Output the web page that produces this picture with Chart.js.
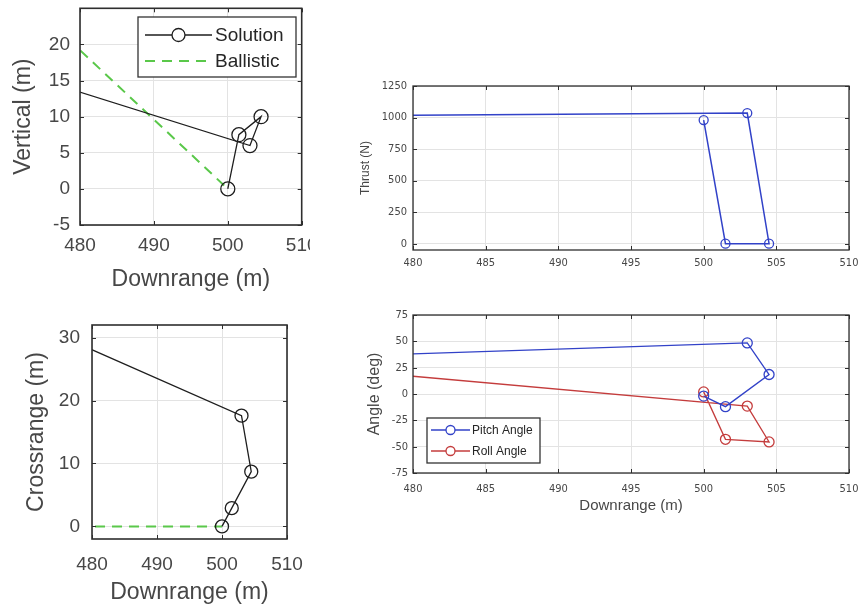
<!DOCTYPE html>
<html>
<head>
<meta charset="utf-8">
<title>Landing trajectory</title>
<script src="https://cdn.jsdelivr.net/npm/chart.js@4.4.1/dist/chart.umd.min.js"></script>
<style>
  html, body { margin: 0; padding: 0; background: #fff; }
  body { width: 859px; height: 608px; position: relative; overflow: hidden; }
  canvas { position: absolute; }
</style>
</head>
<body>
<canvas id="verticalChart" width="310" height="300" style="left:0;top:0"></canvas>
<canvas id="crossChart" width="310" height="308" style="left:0;top:300px"></canvas>
<canvas id="thrustChart" width="529" height="220" style="left:330px;top:60px"></canvas>
<canvas id="angleChart" width="529" height="230" style="left:330px;top:300px"></canvas>
<script>
// Solution samples, in time order (first one sits left of the 480 m window)
let downrange = [470, 503, 504.5, 501.5, 500];
let vertical = [16.6, 6.0, 10.0, 7.5, 0];
let crossrange = [32.6, 17.6, 8.7, 2.9, 0];
let thrust = [1011, 1035, 0, 0, 980];
let pitchAngle = [33.7, 48.5, 18.5, -12, -2];
let rollAngle = [29.2, -11.5, -45.5, -43, 2];

// Ballistic reference
let ballisticDownrange = [470, 500];
let ballisticVertical = [28.8, 0];
let ballisticCrossrange = [0, 0];

// Tick labels
let downrangeTicks = [480, 490, 500, 510];
let downrangeTicksFine = [480, 485, 490, 495, 500, 505, 510];
let verticalTicks = [-5, 0, 5, 10, 15, 20];
let crossrangeTicks = [0, 10, 20, 30];
let thrustTicks = [0, 250, 500, 750, 1000, 1250];
let angleTicks = [-75, -50, -25, 0, 25, 50, 75];

const FONT = '"Liberation Sans", Arial, sans-serif';
const NARROW = '"Liberation Sans Narrow", "DejaVu Sans Condensed", "Liberation Sans", sans-serif';
const GRID = '#e3e3e3';
const TEXT = '#474747';

function points(xs, ys) {
    return xs.map((x, i) => ({ x: x, y: ys[i] }));
}

// Axis box with inward tick marks, MATLAB style
function framePlugin(lineWidth, tickLen) {
    return {
        id: 'frame',
        afterDraw(chart) {
            let ctx = chart.ctx;
            let a = chart.chartArea;
            ctx.save();
            ctx.strokeStyle = '#2e2e2e';
            ctx.lineWidth = 1;
            let xs = chart.scales.x, ys = chart.scales.y;
            ctx.beginPath();
            xs.ticks.forEach(t => {
                let px = Math.round(xs.getPixelForValue(t.value)) + 0.5;
                ctx.moveTo(px, a.bottom); ctx.lineTo(px, a.bottom - tickLen);
                ctx.moveTo(px, a.top); ctx.lineTo(px, a.top + tickLen);
            });
            ys.ticks.forEach(t => {
                let py = Math.round(ys.getPixelForValue(t.value)) + 0.5;
                ctx.moveTo(a.left, py); ctx.lineTo(a.left + tickLen, py);
                ctx.moveTo(a.right, py); ctx.lineTo(a.right - tickLen, py);
            });
            ctx.stroke();
            ctx.lineWidth = lineWidth;
            ctx.strokeRect(a.left, a.top, a.right - a.left, a.bottom - a.top);
            ctx.restore();
        }
    };
}

// Legend drawn inside the axes, entries taken from the datasets
function legendPlugin(cfg) {
    return {
        id: 'insetLegend',
        afterDraw(chart) {
            let ctx = chart.ctx;
            ctx.save();
            ctx.fillStyle = '#fff';
            ctx.fillRect(cfg.x, cfg.y, cfg.w, cfg.h);
            ctx.strokeStyle = '#333';
            ctx.lineWidth = 1.3;
            ctx.strokeRect(cfg.x, cfg.y, cfg.w, cfg.h);
            ctx.font = cfg.font;
            ctx.textBaseline = 'middle';
            chart.data.datasets.forEach((ds, i) => {
                let y = cfg.rows[i];
                ctx.strokeStyle = ds.borderColor;
                ctx.lineWidth = ds.borderWidth;
                ctx.setLineDash(ds.borderDash || []);
                ctx.beginPath();
                ctx.moveTo(cfg.lineFrom, y);
                ctx.lineTo(cfg.lineTo, y);
                ctx.stroke();
                ctx.setLineDash([]);
                if (ds.pointRadius > 0) {
                    ctx.lineWidth = ds.pointBorderWidth;
                    ctx.beginPath();
                    ctx.arc((cfg.lineFrom + cfg.lineTo) / 2, y, cfg.markerR, 0, Math.PI * 2);
                    ctx.fillStyle = '#fff';
                    ctx.fill();
                    ctx.stroke();
                }
                ctx.fillStyle = '#262626';
                ctx.fillText(ds.label, cfg.textX, y + 1);
            });
            ctx.restore();
        }
    };
}

function xAxis(o) {
    return {
        type: 'linear',
        min: o.min, max: o.max,
        afterBuildTicks: s => { s.ticks = o.ticks.map(v => ({ value: v })); },
        afterFit: s => { s.height = o.size; s.paddingLeft = 0; s.paddingRight = 0; },
        grid: { color: GRID, drawTicks: false },
        border: { display: false },
        ticks: {
            autoSkip: false, maxRotation: 0, padding: o.pad, color: TEXT,
            font: { family: o.family || FONT, size: o.fontSize },
            callback: v => String(v)
        },
        title: o.title ? {
            display: true, text: o.title, color: TEXT,
            font: { family: FONT, size: o.titleSize },
            padding: { top: 0, bottom: o.titlePad }
        } : { display: false }
    };
}

function yAxis(o) {
    return {
        type: 'linear',
        min: o.min, max: o.max,
        afterBuildTicks: s => { s.ticks = o.ticks.map(v => ({ value: v })); },
        afterFit: s => { s.width = o.size; s.paddingTop = 0; s.paddingBottom = 0; },
        grid: { color: GRID, drawTicks: false },
        border: { display: false },
        ticks: {
            autoSkip: false, padding: o.pad, color: TEXT,
            font: { family: o.family || FONT, size: o.fontSize },
            callback: v => String(v)
        },
        title: {
            display: true, text: o.title, color: TEXT,
            font: { family: FONT, size: o.titleSize },
            padding: { top: o.titlePad, bottom: 0 }
        }
    };
}

function lineSet(label, xs, ys, color, width, radius) {
    return {
        label: label,
        data: points(xs, ys),
        borderColor: color,
        borderWidth: width,
        pointRadius: radius,
        pointBorderWidth: 1.3,
        pointBorderColor: color,
        pointBackgroundColor: 'rgba(0,0,0,0)',
        tension: 0
    };
}

function baseOptions(padding, scales) {
    return {
        responsive: false,
        animation: false,
        events: [],
        layout: { padding: padding },
        plugins: { legend: { display: false }, tooltip: { enabled: false } },
        scales: scales
    };
}

// Vertical vs downrange
let ballistic = lineSet('Ballistic', ballisticDownrange, ballisticVertical, '#5ac84a', 2, 0);
ballistic.borderDash = [10, 7];
new Chart(document.getElementById('verticalChart'), {
    type: 'line',
    data: { datasets: [
        lineSet('Solution', downrange, vertical, '#1e1e1e', 1.3, 7),
        ballistic
    ] },
    options: baseOptions({ left: 0, top: 8, right: 8, bottom: 0 }, {
        x: xAxis({ min: 480, max: 510, ticks: downrangeTicks, size: 75, pad: 9, fontSize: 19,
                   title: 'Downrange (m)', titleSize: 23, titlePad: 7 }),
        y: yAxis({ min: -5, max: 25, ticks: verticalTicks, size: 80, pad: 10, fontSize: 19,
                   title: 'Vertical (m)', titleSize: 23, titlePad: 10 })
    }),
    plugins: [framePlugin(1.6, 4), legendPlugin({
        x: 138, y: 17, w: 158, h: 60, rows: [35, 61], lineFrom: 145, lineTo: 212,
        textX: 215, markerR: 6.5, font: '19px ' + FONT
    })]
});

// Crossrange vs downrange
let ballisticCross = lineSet('Ballistic', ballisticDownrange, ballisticCrossrange, '#5ac84a', 2, 0);
ballisticCross.borderDash = [10, 7];
new Chart(document.getElementById('crossChart'), {
    type: 'line',
    data: { datasets: [
        lineSet('Solution', downrange, crossrange, '#1e1e1e', 1.3, 6.5),
        ballisticCross
    ] },
    options: baseOptions({ left: 0, top: 25, right: 23, bottom: 0 }, {
        x: xAxis({ min: 480, max: 510, ticks: downrangeTicks, size: 69, pad: 14, fontSize: 19,
                   title: 'Downrange (m)', titleSize: 23, titlePad: 2 }),
        y: yAxis({ min: -2, max: 32, ticks: crossrangeTicks, size: 92, pad: 12, fontSize: 19,
                   title: 'Crossrange (m)', titleSize: 23, titlePad: 23 })
    }),
    plugins: [framePlugin(1.6, 4)]
});

// Thrust vs downrange
new Chart(document.getElementById('thrustChart'), {
    type: 'line',
    data: { datasets: [
        lineSet('Thrust', downrange, thrust, '#3242c8', 1.5, 4.5)
    ] },
    options: baseOptions({ left: 0, top: 26, right: 10, bottom: 0 }, {
        x: xAxis({ min: 480, max: 510, ticks: downrangeTicksFine, size: 30, pad: 7, fontSize: 11,
                   family: NARROW }),
        y: yAxis({ min: -50, max: 1250, ticks: thrustTicks, size: 83, pad: 6, fontSize: 11,
                   family: NARROW, title: 'Thrust (N)', titleSize: 12, titlePad: 28 })
    }),
    plugins: [framePlugin(1.3, 4)]
});

// Pitch and roll vs downrange
new Chart(document.getElementById('angleChart'), {
    type: 'line',
    data: { datasets: [
        lineSet('Pitch Angle', downrange, pitchAngle, '#3242c8', 1.3, 5),
        lineSet('Roll Angle', downrange, rollAngle, '#c43c3c', 1.3, 5)
    ] },
    options: baseOptions({ left: 0, top: 15, right: 10, bottom: 0 }, {
        x: xAxis({ min: 480, max: 510, ticks: downrangeTicksFine, size: 57, pad: 10, fontSize: 11,
                   family: NARROW, title: 'Downrange (m)', titleSize: 15, titlePad: 15 }),
        y: yAxis({ min: -75, max: 75, ticks: angleTicks, size: 83, pad: 5, fontSize: 11,
                   family: NARROW, title: 'Angle (deg)', titleSize: 16, titlePad: 35 })
    }),
    plugins: [framePlugin(1.3, 4), legendPlugin({
        x: 97, y: 118, w: 113, h: 45, rows: [130, 151], lineFrom: 101, lineTo: 140,
        textX: 142, markerR: 4.5, font: '12px ' + FONT
    })]
});
</script>
</body>
</html>
